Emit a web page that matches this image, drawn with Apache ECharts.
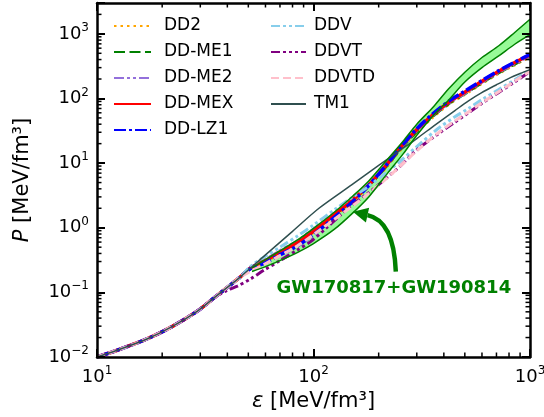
<!DOCTYPE html>
<html>
<head>
<meta charset="utf-8">
<script src="https://cdn.jsdelivr.net/npm/echarts@6/dist/echarts.min.js"></script>
<style>
  html, body { margin: 0; padding: 0; background: #fff; }
  #chart { width: 544px; height: 417px; }
</style>
</head>
<body>
<div id="chart"></div>
<script>
// Energy density ε and pressure P, both in MeV/fm^3.
// Shared crust part of every equation of state.
const crustEps = [10, 12.2, 17, 22.2, 29, 34.7, 42.2, 46.1];
const crustP   = [0.01, 0.0125, 0.019, 0.0295, 0.051, 0.082, 0.138, 0.175];

// Core part of the DD family.
const ddEps    = [51, 59, 70, 84, 100, 125, 152, 180, 215, 250, 300, 360, 430, 500, 600, 711, 850, 1000];
const pDD2     = [0.23, 0.29, 0.40, 0.56, 0.85, 1.50, 2.60, 4.3, 8.3, 15.5, 30, 53, 85, 115, 170, 240, 330, 440];
const pDDME1   = [0.24, 0.31, 0.43, 0.60, 0.92, 1.60, 2.70, 4.5, 8.6, 16.0, 31, 55, 87, 118, 175, 245, 340, 450];
const pDDME2   = [0.24, 0.31, 0.44, 0.62, 0.95, 1.65, 2.80, 4.6, 8.8, 16.5, 32, 56, 89, 120, 178, 250, 345, 455];
const pDDMEX   = [0.235, 0.30, 0.42, 0.58, 0.88, 1.60, 2.70, 4.6, 9.0, 17.0, 33, 58, 92, 125, 185, 260, 360, 470];
const pDDLZ1   = [0.23, 0.28, 0.38, 0.52, 0.78, 1.45, 2.55, 4.5, 9.0, 17.0, 34, 60, 95, 130, 190, 265, 365, 480];

// Core part of the DDV family.
const dvEps    = [51, 59, 70, 84, 100, 125, 152, 180, 215, 250, 300, 375, 450, 520, 600, 711, 850, 1000];
const pDDV     = [0.25, 0.35, 0.50, 0.74, 1.10, 1.90, 3.0, 4.4, 7.0, 10.5, 18, 34, 52, 70, 96, 135, 195, 275];
const pDDVTD   = [0.21, 0.27, 0.37, 0.52, 0.78, 1.35, 2.2, 3.4, 5.6, 8.8, 15.5, 29, 45, 62, 86, 125, 185, 265];
const ddvtEps  = [40, 44.5, 51, 59, 70, 84, 97, 115, 134, 152, 180, 215, 250, 300, 375, 450, 520, 600, 711, 850, 1000];
const pDDVT    = [0.108, 0.125, 0.16, 0.22, 0.31, 0.45, 0.61, 1.0, 1.6, 2.3, 3.5, 5.7, 8.8, 16, 28, 43, 60, 84, 122, 180, 260];

// TM1 core.
const tm1Eps   = [60, 80, 106, 150, 200, 245, 300, 361, 450, 520, 596, 700, 800, 900, 1000];
const pTM1     = [0.38, 0.88, 2.0, 4.6, 9.2, 14.9, 24, 38, 65, 92, 122, 163, 205, 243, 279];

// GW170817+GW190814 constraint band.
const bandEps   = [52, 60, 70, 85, 100, 125, 152, 180, 220, 260, 300, 360, 420, 500, 600, 720, 850, 1000];
const bandUpper = [0.24, 0.32, 0.44, 0.66, 0.98, 1.75, 3.1, 5.3, 11.5, 22, 40, 76, 140, 255, 430, 660, 1050, 1680];
const bandLower = [0.21, 0.25, 0.31, 0.42, 0.57, 0.95, 1.7, 3.0, 7.0, 14, 27, 56, 94, 180, 300, 460, 690, 970];

const legendLeft  = ['DD2', 'DD-ME1', 'DD-ME2', 'DD-MEX', 'DD-LZ1'];
const legendRight = ['DDV', 'DDVT', 'DDVTD', 'TM1'];

const bandLabel = 'GW170817+GW190814';
const bandLabelAt = [235, 0.117];
const arrowTail = [240, 0.21];
const arrowTip = [152, 1.76];

const X_MIN = 10, X_MAX = 1000, Y_MIN = 0.01, Y_MAX = 3000;
const FONT = 'DejaVu Sans';

function pairs(xs, ys) { return xs.map((x, i) => [x, ys[i]]); }
function withCrust(xs, ys, n) {
  const k = n == null ? crustEps.length : n;
  return pairs(crustEps.slice(0, k), crustP.slice(0, k)).concat(pairs(xs, ys));
}

function powLabel(v) {
  const e = Math.log10(v);
  const r = Math.round(e);
  if (Math.abs(e - r) > 1e-6) return '';
  return '{b|10}{s|' + (r < 0 ? '\u2212' + (-r) : String(r)) + '}';
}
const labelRich = {
  b: { fontFamily: FONT, fontSize: 18, color: '#000', lineHeight: 24 },
  s: { fontFamily: FONT, fontSize: 12, color: '#000', lineHeight: 16, verticalAlign: 'top' }
};

function curve(name, data, color, width, type, z) {
  return {
    name: name, type: 'line', data: data, smooth: 0.3,
    symbol: 'none', showSymbol: false, z: z || 3,
    lineStyle: { color: color, width: width, type: type || 'solid', cap: 'butt' },
    itemStyle: { color: color },
    emphasis: { disabled: true }, animation: false
  };
}

// filled region under a curve down to the bottom of the plot
function area(name, data, fill, z) {
  const s = curve(name, data, fill, 0, 'solid', z);
  s.lineStyle.opacity = 0;
  s.areaStyle = { color: fill, opacity: 1, origin: 'start' };
  s.silent = true;
  return s;
}

// minor tick positions inside each decade
function minorValues(lo, hi) {
  const out = [];
  for (let d = Math.floor(Math.log10(lo)); d <= Math.ceil(Math.log10(hi)); d++) {
    for (let m = 2; m <= 9; m++) {
      const v = m * Math.pow(10, d);
      if (v > lo * 1.0001 && v < hi * 0.9999) out.push(v);
    }
  }
  return out;
}
const xMinor = minorValues(X_MIN, X_MAX);
const yMinor = minorValues(Y_MIN, Y_MAX);

const axisLine = { show: true, lineStyle: { color: '#000', width: 2.5 } };
const majorTick = { show: true, inside: true, length: 8, lineStyle: { color: '#000', width: 2 } };

const legendBase = {
  orient: 'vertical', top: 16, padding: 0, itemHeight: 14, itemGap: 6, selectedMode: false,
  itemStyle: { opacity: 0, borderWidth: 0 }
};

const chart = echarts.init(document.getElementById('chart'), null, { renderer: 'canvas' });

const option = {
  animation: false,
  backgroundColor: '#fff',
  grid: { left: 97, right: 14, top: 3, bottom: 60, containLabel: false, outerBoundsMode: 'none' },
  xAxis: [
    {
      type: 'log', logBase: 10, min: X_MIN, max: X_MAX, position: 'bottom', z: 10,
      axisLine: axisLine, axisTick: majorTick, splitLine: { show: false },
      axisLabel: { formatter: powLabel, margin: 8, rich: labelRich, showMinLabel: true, showMaxLabel: true },
      name: '{i|\u03b5} [MeV/fm\u00b3]', nameLocation: 'middle', nameGap: 34,
      nameTextStyle: { fontFamily: FONT, fontSize: 21, color: '#000',
        rich: { i: { fontFamily: FONT, fontSize: 21, fontStyle: 'italic', color: '#000' } } }
    },
    {
      type: 'log', logBase: 10, min: X_MIN, max: X_MAX, position: 'top', z: 10,
      axisLine: axisLine, axisTick: majorTick, splitLine: { show: false },
      axisLabel: { show: false }
    }
  ],
  yAxis: [
    {
      type: 'log', logBase: 10, min: Y_MIN, max: Y_MAX, position: 'left', z: 10,
      axisLine: axisLine, axisTick: majorTick, splitLine: { show: false },
      axisLabel: { formatter: powLabel, margin: 8, rich: labelRich, showMinLabel: true, showMaxLabel: true },
      name: '{i|P} [MeV/fm\u00b3]', nameLocation: 'middle', nameGap: 64,
      nameTextStyle: { fontFamily: FONT, fontSize: 21, color: '#000',
        rich: { i: { fontFamily: FONT, fontSize: 21, fontStyle: 'italic', color: '#000' } } }
    },
    {
      type: 'log', logBase: 10, min: Y_MIN, max: Y_MAX, position: 'right', z: 10,
      axisLine: axisLine, axisTick: majorTick, splitLine: { show: false },
      axisLabel: { show: false }
    }
  ],
  legend: [
    Object.assign({}, legendBase, {
      data: legendLeft, left: 113, itemWidth: 37,
      textStyle: { fontFamily: FONT, fontSize: 17, color: '#000', lineHeight: 20, padding: [0, 0, 0, 8] }
    }),
    Object.assign({}, legendBase, {
      data: legendRight, left: 270, itemWidth: 35,
      textStyle: { fontFamily: FONT, fontSize: 17, color: '#000', lineHeight: 20, padding: [0, 0, 0, 3] }
    })
  ],
  series: [
    // constraint band: green under the upper edge, cleared again under the lower edge
    area('band fill', pairs(bandEps, bandUpper), '#98fb98', 1),
    area('band clear', pairs(bandEps, bandLower), '#ffffff', 2),
    {
      // minor ticks on all four sides
      type: 'custom', name: 'minor', z: 10, silent: true, animation: false,
      data: [[100, 1]],
      renderItem: function (params, api) {
        const children = [];
        const st = { stroke: '#000', lineWidth: 1.5 };
        const L = 4.5;
        xMinor.forEach(v => {
          const b = api.coord([v, Y_MIN]);
          const t = api.coord([v, Y_MAX]);
          children.push({ type: 'line', shape: { x1: b[0], y1: b[1], x2: b[0], y2: b[1] - L }, style: st });
          children.push({ type: 'line', shape: { x1: t[0], y1: t[1], x2: t[0], y2: t[1] + L }, style: st });
        });
        yMinor.forEach(v => {
          const l = api.coord([X_MIN, v]);
          const r = api.coord([X_MAX, v]);
          children.push({ type: 'line', shape: { x1: l[0], y1: l[1], x2: l[0] + L, y2: l[1] }, style: st });
          children.push({ type: 'line', shape: { x1: r[0], y1: r[1], x2: r[0] - L, y2: r[1] }, style: st });
        });
        return { type: 'group', children: children };
      }
    },
    curve('DD2',    withCrust(ddEps, pDD2),   '#ffa500', 2.8, [2.5, 4]),
    curve('DD-ME1', withCrust(ddEps, pDDME1), '#008000', 3,   [11, 4.5]),
    curve('DD-ME2', withCrust(ddEps, pDDME2), '#9370db', 3,   [10, 3, 3, 3, 3, 3]),
    curve('DD-MEX', withCrust(ddEps, pDDMEX), '#ff0000', 3.5, 'solid'),
    curve('DD-LZ1', withCrust(ddEps, pDDLZ1), '#0000ff', 3.5, [12, 3, 3, 3]),
    curve('DDV',    withCrust(dvEps, pDDV),   '#87ceeb', 3,   [9, 3, 3, 3, 3, 3]),
    curve('DDVT',   withCrust(ddvtEps, pDDVT, 6), '#800080', 3, [9, 3, 3, 3, 3, 3, 3, 3]),
    curve('DDVTD',  withCrust(dvEps, pDDVTD), '#ffc0cb', 3,   [8, 4]),
    curve('TM1',    withCrust(tm1Eps, pTM1),  '#2f4f4f', 1.5, 'solid'),
    curve('band upper', pairs(bandEps, bandUpper), '#008000', 1.5, 'solid', 4),
    curve('band lower', pairs(bandEps, bandLower), '#008000', 1.5, 'solid', 4)
  ]
};

chart.setOption(option);

// annotation for the constraint band: label with a curved arrow
const tp = chart.convertToPixel({ gridIndex: 0 }, bandLabelAt);
const tail = chart.convertToPixel({ gridIndex: 0 }, arrowTail);
const tip = chart.convertToPixel({ gridIndex: 0 }, arrowTip);
const cp = [tail[0] - 2, tip[1] + 9];
let dx = tip[0] - cp[0], dy = tip[1] - cp[1];
const dl = Math.hypot(dx, dy); dx /= dl; dy /= dl;
const headLen = 15, headHalf = 7.5;
const base = [tip[0] - dx * headLen, tip[1] - dy * headLen];
const nx = -dy, ny = dx;

chart.setOption({
  graphic: [
    {
      type: 'text', z: 20,
      style: { text: bandLabel, x: tp[0], y: tp[1], align: 'center', verticalAlign: 'middle',
               font: 'bold 18px "DejaVu Sans"', fill: '#008000' }
    },
    {
      type: 'bezierCurve', z: 20,
      shape: { x1: tail[0], y1: tail[1], x2: base[0], y2: base[1], cpx1: cp[0], cpy1: cp[1] },
      style: { stroke: '#008000', lineWidth: 4.5, fill: null }
    },
    {
      type: 'polygon', z: 20,
      shape: { points: [[tip[0], tip[1]],
                        [base[0] + nx * headHalf, base[1] + ny * headHalf],
                        [base[0] - nx * headHalf, base[1] - ny * headHalf]] },
      style: { fill: '#008000' }
    }
  ]
});
</script>
</body>
</html>
